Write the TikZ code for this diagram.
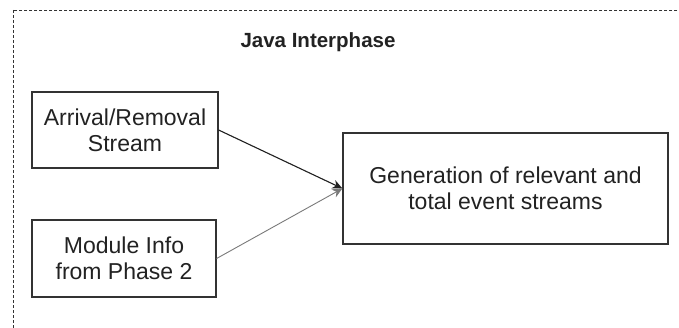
\documentclass[tikz,border=0pt]{standalone}
\usepackage{fontspec}
\setmainfont{Liberation Sans}
\usetikzlibrary{arrows.meta}
\definecolor{txt}{HTML}{222222}
\definecolor{edge}{HTML}{333333}
\definecolor{lightline}{HTML}{7A7A7A}
\begin{document}
\begin{tikzpicture}[x=1pt,y=-1pt,
  box/.style={draw=edge, line width=1.2pt, inner sep=0pt, align=center,
    text=txt, font=\fontsize{23}{26}\selectfont},
  conn/.style={line width=1.1pt, -{Stealth[length=10pt,width=9pt]}},
  frame/.style={draw=edge, line width=0.9pt, dash pattern=on 3pt off 2pt}]
\useasboundingbox (0,0) rectangle (679,328);
\fill[white] (0,0) rectangle (679,328);
\begin{scope}
\clip (0,0) rectangle (679,328);
\draw[frame] (13,10) rectangle (700,350);
\end{scope}
\node[font=\bfseries\fontsize{20.5}{24}\selectfont, text=txt] (title) at (318,42) {Java Interphase};
\node[box, minimum width=186pt, minimum height=76pt] (arr) at (125,130) {Arrival/Removal\\Stream};
\node[box, minimum width=184pt, minimum height=77pt] (mod) at (124,258.5) {Module Info\\from Phase 2};
\node[box, minimum width=325pt, minimum height=111pt] (gen) at (505.5,188.5) {Generation of relevant and\\total event streams};
\draw[conn, draw=lightline, line width=0.9pt] (mod.east) -- (gen.west);
\draw[conn, draw=txt, fill=txt] (arr.east) -- (gen.west);
\end{tikzpicture}
\end{document}
